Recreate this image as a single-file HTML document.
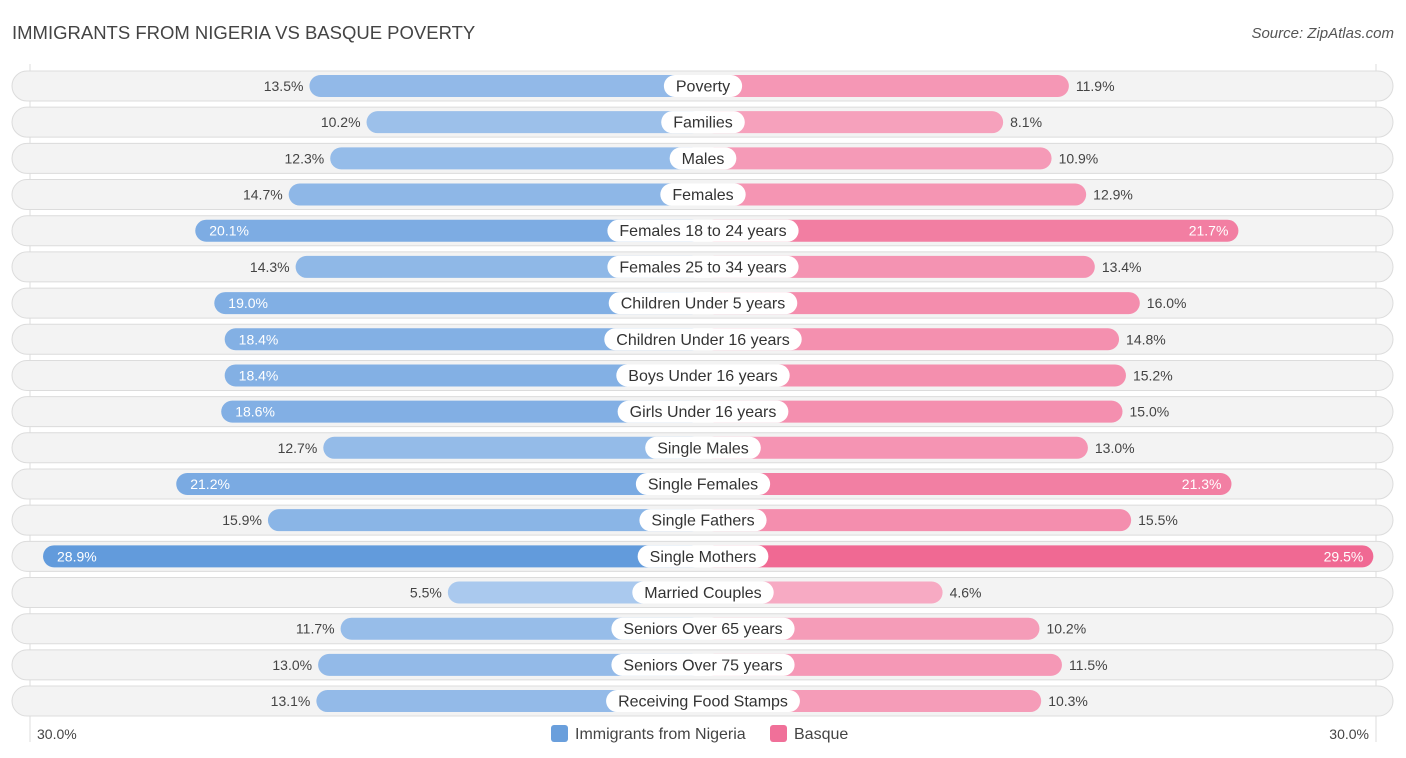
<!DOCTYPE html>
<html><head><meta charset="utf-8"><style>
body{margin:0;width:1406px;height:758px;background:#fff;font-family:"Liberation Sans",sans-serif;position:relative;overflow:hidden}
.t{position:absolute;white-space:nowrap}
</style></head><body>
<div class="t" style="left:12px;top:22px;font-size:18.5px;color:#444">IMMIGRANTS FROM NIGERIA VS BASQUE POVERTY</div>
<div class="t" style="right:12px;top:25px;font-size:15px;color:#555;font-style:italic">Source: ZipAtlas.com</div>
<svg id="c" width="1406" height="758" style="position:absolute;left:0;top:0;font-family:'Liberation Sans',sans-serif"></svg>
<script>
const categories=["Poverty","Families","Males","Females","Females 18 to 24 years","Females 25 to 34 years","Children Under 5 years","Children Under 16 years","Boys Under 16 years","Girls Under 16 years","Single Males","Single Females","Single Fathers","Single Mothers","Married Couples","Seniors Over 65 years","Seniors Over 75 years","Receiving Food Stamps"];
const nigeria=[13.5,10.2,12.3,14.7,20.1,14.3,19.0,18.4,18.4,18.6,12.7,21.2,15.9,28.9,5.5,11.7,13.0,13.1];
const basque=[11.9,8.1,10.9,12.9,21.7,13.4,16.0,14.8,15.2,15.0,13.0,21.3,15.5,29.5,4.6,10.2,11.5,10.3];
const axisLabels=["30.0%","30.0%"];
const svg=document.getElementById('c');const NS='http://www.w3.org/2000/svg';
const cx=703,off=160,k=17.3,y0=86,step=36.18;
function len(v){return off+k*v;}
function mk(t,a,name){const e=document.createElementNS(NS,t);for(const x in a)e.setAttribute(x,a[x]);svg.appendChild(e);return e;}
mk('line',{x1:30,x2:30,y1:64,y2:742,stroke:'#ddd'},'grid-left');
mk('line',{x1:1376,x2:1376,y1:64,y2:742,stroke:'#ddd'},'grid-right');
function mix(a,b,t){return 'rgb('+a.map((c,i)=>Math.round(c+(b[i]-c)*t)).join(',')+')';}
categories.forEach((c,i)=>{
 const y=y0+i*step;
 mk('rect',{x:12,y:y-15,width:1381,height:30,rx:15,fill:'#f3f3f3',stroke:'#dcdcdc'},'row-bg');
 const n=nigeria[i],b=basque[i];
 const tn=Math.min(1,Math.max(0,(n-5)/24)),tb=Math.min(1,Math.max(0,(b-4)/26));
 const ln=len(n),lb=len(b);
 mk('rect',{x:cx-ln,y:y-11,width:ln,height:22,rx:11,fill:mix([172,202,238],[98,155,220],tn)},'bar-nigeria');
 mk('rect',{x:cx,y:y-11,width:lb,height:22,rx:11,fill:mix([247,172,196],[240,104,146],tb)},'bar-basque');
 const inN=n>18,inB=b>20;
 let t=mk('text',{x:inN?cx-ln+14:cx-ln-6,y:y+5,'font-size':14,fill:inN?'#fff':'#444','text-anchor':inN?'start':'end'},'value-nigeria');t.textContent=n.toFixed(1)+'%';
 t=mk('text',{x:inB?cx+lb-10:cx+lb+7,y:y+5,'font-size':14,fill:inB?'#fff':'#444','text-anchor':inB?'end':'start'},'value-basque');t.textContent=b.toFixed(1)+'%';
 t=mk('text',{x:cx,y:y+5.5,'font-size':16,fill:'#333','text-anchor':'middle'},'category-label');t.textContent=c;
 const w=t.getComputedTextLength()+24;
 const p=mk('rect',{x:cx-w/2,y:y-11,width:w,height:22,rx:11,fill:'#fff'},'category-pill');
 svg.insertBefore(p,t);
});
let t=mk('text',{x:37,y:739,'font-size':14,fill:'#444'},'axis-left');t.textContent=axisLabels[0];
t=mk('text',{x:1369,y:739,'font-size':14,fill:'#444','text-anchor':'end'},'axis-right');t.textContent=axisLabels[1];
mk('rect',{x:551,y:725,width:17,height:17,rx:3,fill:'#6a9fdc'},'legend-swatch-nigeria');
t=mk('text',{x:575,y:739,'font-size':16,fill:'#444'},'legend-nigeria');t.textContent='Immigrants from Nigeria';
mk('rect',{x:770,y:725,width:17,height:17,rx:3,fill:'#f07099'},'legend-swatch-basque');
t=mk('text',{x:794,y:739,'font-size':16,fill:'#444'},'legend-basque');t.textContent='Basque';
</script>
</body></html>
